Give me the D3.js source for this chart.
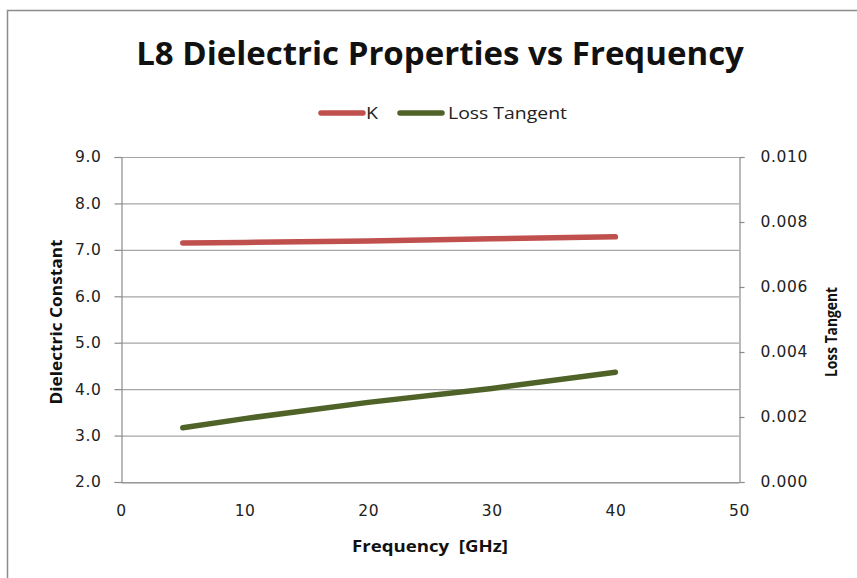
<!DOCTYPE html>
<html><head><meta charset="utf-8">
<script src="https://cdn.jsdelivr.net/npm/d3@7"></script>
<style>body{margin:0;background:#fff;}svg{display:block;}</style>
</head><body>
<script>
const frequency = [5, 10, 20, 30, 40];
const kValues = [7.15, 7.16, 7.19, 7.24, 7.28];
const lossTangent = [0.00167, 0.00195, 0.00245, 0.00288, 0.00338];
const xTicks = [0, 10, 20, 30, 40, 50];
const yLeftTicks = [2, 3, 4, 5, 6, 7, 8, 9];
const yRightTicks = [0, 0.002, 0.004, 0.006, 0.008, 0.010];
const seriesNames = ["K", "Loss Tangent"];
const seriesColors = ["#c0504d", "#4f6228"];

const W = 857, H = 578;
const svg = d3.select("body").append("svg").attr("width", W).attr("height", H);
svg.append("rect").attr("x", 7.5).attr("y", 10.5).attr("width", 900).attr("height", 700)
  .attr("fill", "#fff").attr("stroke", "#8c8c8c").attr("stroke-width", 1.5);

const L = 121, R = 739, T = 157, B = 482;
const x = d3.scaleLinear().domain([0, 50]).range([L, R]);
const yL = d3.scaleLinear().domain([2, 9]).range([B, T]);
const yR = d3.scaleLinear().domain([0, 0.010]).range([B, T]);

const font = "'DejaVu Sans', Verdana, sans-serif";
svg.append("g").selectAll("line").data(yLeftTicks).join("line")
  .attr("x1", L).attr("x2", R).attr("y1", d => yL(d) + 0.5).attr("y2", d => yL(d) + 0.5)
  .attr("stroke", "#a6a6a6").attr("stroke-width", 1.2);

const gx = svg.append("g").attr("transform", `translate(0,${B + 0.5})`)
  .call(d3.axisBottom(x).tickValues(xTicks).tickSize(0).tickPadding(22).tickFormat(d3.format("d")));
const gl = svg.append("g").attr("transform", `translate(${L + 0.5},0)`)
  .call(d3.axisLeft(yL).tickValues(yLeftTicks).tickSize(7).tickPadding(13).tickFormat(d3.format(".1f")));
const gr = svg.append("g").attr("transform", `translate(${R + 0.5},0)`)
  .call(d3.axisRight(yR).tickValues(yRightTicks).tickSize(5).tickPadding(16).tickFormat(d3.format(".3f")));
[gx, gl, gr].forEach(g => {
  g.selectAll("path.domain").attr("stroke", "#8c8c8c").attr("stroke-width", 1.2);
  g.selectAll(".tick line").attr("stroke", "#8c8c8c").attr("stroke-width", 1.2);
  g.selectAll("text").attr("font-family", font).attr("font-size", 15.5).attr("fill", "#222")
    .attr("letter-spacing", 0.6);
});

const lineK = d3.line().x((d, i) => x(frequency[i])).y(d => yL(d));
const lineLT = d3.line().x((d, i) => x(frequency[i])).y(d => yR(d));
svg.append("path").datum(kValues).attr("d", lineK).attr("fill", "none")
  .attr("stroke", seriesColors[0]).attr("stroke-width", 5.5).attr("stroke-linecap", "round").attr("stroke-linejoin", "round");
svg.append("path").datum(lossTangent).attr("d", lineLT).attr("fill", "none")
  .attr("stroke", seriesColors[1]).attr("stroke-width", 5.5).attr("stroke-linecap", "round").attr("stroke-linejoin", "round");

svg.append("text").attr("x", 440).attr("y", 65).attr("text-anchor", "middle")
  .attr("font-family", "'Open Sans', 'Noto Sans', sans-serif").attr("font-weight", "bold").attr("font-size", 33)
  .attr("fill", "#111").text("L8 Dielectric Properties vs Frequency");

const legX = [321, 400], legText = [366, 448], legLen = [12, 119];
seriesNames.forEach((n, i) => {
  svg.append("line").attr("x1", legX[i]).attr("x2", legX[i] + 42).attr("y1", 113).attr("y2", 113)
    .attr("stroke", seriesColors[i]).attr("stroke-width", 5.5).attr("stroke-linecap", "round");
  svg.append("text").attr("x", legText[i]).attr("y", 119).attr("font-family", "'Open Sans', sans-serif")
    .attr("font-size", 17).attr("fill", "#222").attr("textLength", legLen[i])
    .attr("lengthAdjust", "spacingAndGlyphs").text(n);
});

const tf = "'Open Sans', sans-serif";
svg.append("text").attr("x", 430).attr("y", 552).attr("text-anchor", "middle").attr("font-family", tf)
  .attr("font-weight", "bold").attr("font-size", 16).attr("fill", "#111").attr("xml:space", "preserve")
  .attr("textLength", 156).attr("lengthAdjust", "spacingAndGlyphs").text("Frequency  [GHz]");
svg.append("text").attr("transform", "translate(62,322) rotate(-90)").attr("text-anchor", "middle").attr("font-family", tf)
  .attr("font-weight", "bold").attr("font-size", 16).attr("fill", "#111")
  .attr("textLength", 165).attr("lengthAdjust", "spacingAndGlyphs").text("Dielectric Constant");
svg.append("text").attr("transform", "translate(837,332) rotate(-90)").attr("text-anchor", "middle").attr("font-family", tf)
  .attr("font-weight", "bold").attr("font-size", 16).attr("fill", "#111")
  .attr("textLength", 90).attr("lengthAdjust", "spacingAndGlyphs").text("Loss Tangent");
</script>
</body></html>
